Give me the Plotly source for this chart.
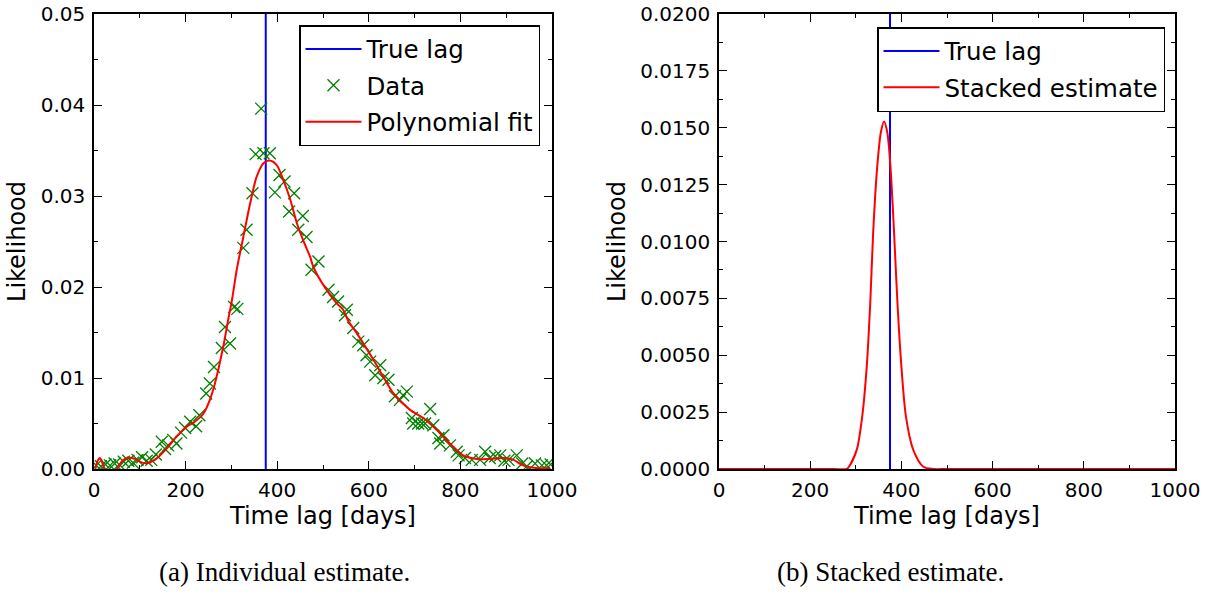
import plotly.graph_objects as go

TRUE_LAG = 375

# Left panel: individual estimate data (time lag [days], likelihood)
data_x = [5, 15, 25, 35, 45, 55, 65, 75, 85, 95, 105, 115, 125, 135, 148, 155, 162, 173, 180,
          190, 199, 210, 223, 230, 245, 253, 262, 279, 286, 297, 306, 313, 326, 333, 346, 353,
          365, 370, 384, 395, 405, 416, 426, 437, 446, 456, 464, 475, 490, 512, 522, 533, 548,
          552, 566, 577, 588, 595, 603, 614, 625, 632, 643, 657, 668, 675, 683, 694, 697, 708,
          716, 723, 734, 741, 752, 756, 763, 777, 792, 796, 810, 825, 843, 854, 864, 876, 887,
          896, 905, 923, 935, 945, 963, 978, 988, 997]
data_y = [0.0004, 0.0003, 0.0005, 0.0004, 0.0006, 0.0005, 0.0008, 0.0009, 0.0007, 0.0010,
          0.0013, 0.0009, 0.0010, 0.0016, 0.0030, 0.0022, 0.0026, 0.0032, 0.0028, 0.0040,
          0.0045, 0.0052, 0.0047, 0.0059, 0.0083, 0.0094, 0.0112, 0.0133, 0.0156, 0.0138,
          0.0178, 0.0176, 0.0243, 0.0263, 0.0303, 0.0346, 0.0396, 0.0347, 0.0347, 0.0304,
          0.0323, 0.0316, 0.0283, 0.0303, 0.0263, 0.0278, 0.0255, 0.0219, 0.0228, 0.0197,
          0.0189, 0.0184, 0.0169, 0.0175, 0.0155, 0.0140, 0.0136, 0.0125, 0.0118, 0.0103,
          0.0114, 0.0100, 0.0098, 0.0080, 0.0076, 0.0081, 0.0085, 0.0056, 0.0050, 0.0050,
          0.0050, 0.0050, 0.0066, 0.0048, 0.0034, 0.0028, 0.0037, 0.0026, 0.0019, 0.0015,
          0.0012, 0.0010, 0.0010, 0.0019, 0.0012, 0.0014, 0.0015, 0.0009, 0.0010, 0.0015,
          0.0006, 0.0003, 0.0006, 0.0004, 0.0004, 0.0005]

# Polynomial fit curve
fit_x = [3, 8, 13, 18, 24, 35, 50, 62, 75, 90, 105, 115, 125, 137, 159, 180, 202, 220, 239,
         253, 264, 282, 293, 301, 312, 326, 341, 355, 370, 383, 399, 413, 428, 443, 457, 472,
         479, 501, 530, 544, 555, 574, 610, 632, 654, 690, 719, 748, 777, 806, 836, 865, 894,
         916, 937, 967, 996]
fit_y = [0.0, 0.0009, 0.0012, 0.0007, 0.0, -0.0004, 0.0, 0.0009, 0.00124, 0.0011, 0.0007,
         0.00063, 0.0008, 0.00117, 0.00227, 0.00355, 0.00465, 0.0052, 0.0061, 0.0076, 0.0094,
         0.0134, 0.0164, 0.0185, 0.0220, 0.0255, 0.0292, 0.0321, 0.0336, 0.0339, 0.0334,
         0.0318, 0.0297, 0.0270, 0.0251, 0.0233, 0.0222, 0.0202, 0.0182, 0.0175, 0.0163,
         0.0149, 0.0120, 0.0101, 0.0083, 0.0065, 0.0056, 0.0043, 0.0028, 0.0015, 0.0011,
         0.0011, 0.0012, 0.0010, 0.0004, 0.0001, 0.0001]

# Right panel: stacked estimate curve
stack_x = [0, 250, 280, 285, 302, 314, 324, 332, 338, 347, 355, 362, 369, 376, 384, 391,
           400, 410, 426, 448, 470, 500, 1000]
stack_y = [0.0, 0.0, 0.0, 0.0001, 0.00084, 0.0023, 0.0045, 0.00743, 0.01036, 0.01329,
           0.0148, 0.01527, 0.0148, 0.01329, 0.01036, 0.00743, 0.0045, 0.0023, 0.00084,
           0.0001, 0.0, 0.0, 0.0]

LEFT_YMAX = 0.05
RIGHT_YMAX = 0.02

FONT = "DejaVu Sans"
BLUE = "#0000ff"
GREEN = "#008000"
RED = "#ff0000"

fig = go.Figure()

fig.add_trace(go.Scatter(x=[TRUE_LAG, TRUE_LAG], y=[0, LEFT_YMAX], mode="lines",
                         line=dict(color=BLUE, width=2), name="True lag", legendgroup="a1",
                         xaxis="x", yaxis="y", legend="legend"))
fig.add_trace(go.Scatter(x=data_x, y=data_y, mode="markers", name="Data", legendgroup="a2",
                         marker=dict(symbol="x-thin", size=12,
                                     line=dict(color=GREEN, width=1.3), color=GREEN),
                         xaxis="x", yaxis="y", legend="legend"))
fig.add_trace(go.Scatter(x=fit_x, y=fit_y, mode="lines", name="Polynomial fit", legendgroup="a3",
                         line=dict(color=RED, width=2, shape="spline", smoothing=0.8),
                         xaxis="x", yaxis="y", legend="legend"))

fig.add_trace(go.Scatter(x=[TRUE_LAG, TRUE_LAG], y=[0, RIGHT_YMAX], mode="lines",
                         line=dict(color=BLUE, width=2), name="True lag", legendgroup="b1",
                         xaxis="x2", yaxis="y2", legend="legend2"))
fig.add_trace(go.Scatter(x=stack_x, y=stack_y, mode="lines", name="Stacked estimate",
                         legendgroup="b2",
                         line=dict(color=RED, width=2, shape="spline", smoothing=0.8),
                         xaxis="x2", yaxis="y2", legend="legend2"))

W, H = 1214, 593
def px_x(p):
    return p / W
def px_y(p):
    return (H - p) / H

axis_common = dict(showline=True, linecolor="black", linewidth=1.5, mirror="allticks",
                   ticks="inside", ticklen=8, tickwidth=1, tickcolor="black",
                   showgrid=False, zeroline=False, automargin=False,
                   tickfont=dict(family=FONT, size=20, color="black"))

XT = dict(text="Time lag [days]", font=dict(family=FONT, size=24), standoff=6)
YT = dict(text="Likelihood", font=dict(family=FONT, size=24), standoff=8)

legend_common = dict(xanchor="right", yanchor="top", bordercolor="black", borderwidth=1.5,
                     bgcolor="white", font=dict(family=FONT, size=24.5, color="black"),
                     itemwidth=56, tracegroupgap=1.5)

fig.update_layout(
    width=W, height=H,
    margin=dict(l=0, r=0, t=0, b=0),
    paper_bgcolor="white", plot_bgcolor="white",
    font=dict(family=FONT, color="black"),
    xaxis=dict(domain=[px_x(94), px_x(552)], range=[0, 1000], anchor="y",
               tickvals=[0, 200, 400, 600, 800, 1000], tickformat="d", ticklabelstandoff=2,
               minor=dict(ticks="inside", ticklen=4, dtick=100, tick0=0, tickcolor="black"),
               title=XT, **axis_common),
    yaxis=dict(domain=[px_y(469), px_y(14)], range=[0, LEFT_YMAX], anchor="x",
               tickvals=[0, 0.01, 0.02, 0.03, 0.04, 0.05], tickformat=".2f", ticklabelstandoff=3,
               minor=dict(ticks="inside", ticklen=4, dtick=0.005, tick0=0, tickcolor="black"),
               title=YT, **axis_common),
    xaxis2=dict(domain=[px_x(719), px_x(1175)], range=[0, 1000], anchor="y2",
                tickvals=[0, 200, 400, 600, 800, 1000], tickformat="d", ticklabelstandoff=2,
                minor=dict(ticks="inside", ticklen=4, dtick=100, tick0=0, tickcolor="black"),
                title=XT, **axis_common),
    yaxis2=dict(domain=[px_y(469), px_y(14)], range=[0, RIGHT_YMAX], anchor="x2",
                tickvals=[0, 0.0025, 0.005, 0.0075, 0.01, 0.0125, 0.015, 0.0175, 0.02],
                tickformat=".4f", ticklabelstandoff=3,
                minor=dict(ticks="inside", ticklen=4, dtick=0.00125, tick0=0, tickcolor="black"),
                title=YT, **axis_common),
    legend=dict(x=px_x(540), y=px_y(25), **legend_common),
    legend2=dict(x=px_x(1165), y=px_y(27), **legend_common),
    showlegend=True,
    annotations=[
        dict(text="(a) Individual estimate.", x=px_x(284), y=px_y(572), xref="paper",
             yref="paper", showarrow=False, xanchor="center", yanchor="middle",
             font=dict(family="Liberation Serif", size=27, color="black")),
        dict(text="(b) Stacked estimate.", x=px_x(890), y=px_y(572), xref="paper",
             yref="paper", showarrow=False, xanchor="center", yanchor="middle",
             font=dict(family="Liberation Serif", size=27, color="black")),
    ],
)

fig.write_html("out.html")
